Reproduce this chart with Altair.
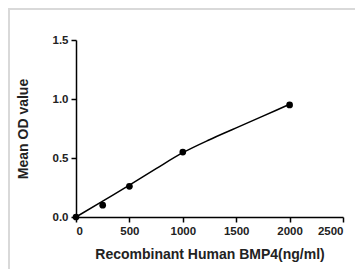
import altair as alt
import pandas as pd

# Measured points
conc = [0, 250, 500, 1000, 2000]
od = [0.0, 0.10, 0.26, 0.55, 0.95]

# Fitted curve
curve_x = [0, 250, 500, 750, 1000, 1250, 1500, 1750, 2000]
curve_y = [0.0, 0.135, 0.27, 0.41, 0.545, 0.655, 0.755, 0.855, 0.955]

x_ticks = [0, 500, 1000, 1500, 2000, 2500]
y_ticks = [0.0, 0.5, 1.0, 1.5]

pts = pd.DataFrame({"conc": conc, "od": od})
crv = pd.DataFrame({"conc": curve_x, "od": curve_y})

W, H = 267, 177
FONT = "Liberation Sans"

xscale = alt.Scale(domain=[0, 2500], nice=False)
yscale = alt.Scale(domain=[0, 1.5], nice=False)

xaxis = alt.Axis(values=x_ticks, format="d", title="Recombinant Human BMP4(ng/ml)",
                 titleX=W / 2, titleY=30, titleBaseline="top")
yaxis = alt.Axis(values=y_ticks, format=".1f", title="Mean OD value",
                 titleX=-46, titleY=H / 2)

line = alt.Chart(crv).mark_line(color="black", strokeWidth=1.5, interpolate="monotone").encode(
    x=alt.X("conc:Q", scale=xscale, axis=xaxis),
    y=alt.Y("od:Q", scale=yscale, axis=yaxis),
)

points = alt.Chart(pts).mark_circle(color="black", size=45, opacity=1).encode(
    x=alt.X("conc:Q", scale=xscale),
    y=alt.Y("od:Q", scale=yscale),
)

frame_top = alt.Chart(pts).mark_rule(color="#d9d9d9", strokeWidth=2).encode(
    x=alt.value(-68), x2=alt.value(W + 12), y=alt.value(-31)
)
frame_left = alt.Chart(pts).mark_rule(color="#d9d9d9", strokeWidth=2).encode(
    x=alt.value(-67), y=alt.value(-32), y2=alt.value(H + 52)
)

chart = alt.layer(frame_top, frame_left, line, points).properties(
    width=W, height=H,
    autosize=alt.AutoSizeParams(type="none"),
    padding={"left": 68, "top": 32, "right": 12, "bottom": 52},
).configure_view(stroke=None).configure_axis(
    grid=False,
    domainColor="black", domainWidth=1.5,
    tickColor="black", tickWidth=1.5, tickSize=5,
    labelFont=FONT, labelFontWeight="bold", labelFontSize=11.5, labelColor="#222222",
    labelPadding=3,
    titleFont=FONT, titleFontWeight="bold", titleFontSize=14, titleColor="#222222",
)

chart.save("out.html", embed_options={"renderer": "svg", "actions": False})
